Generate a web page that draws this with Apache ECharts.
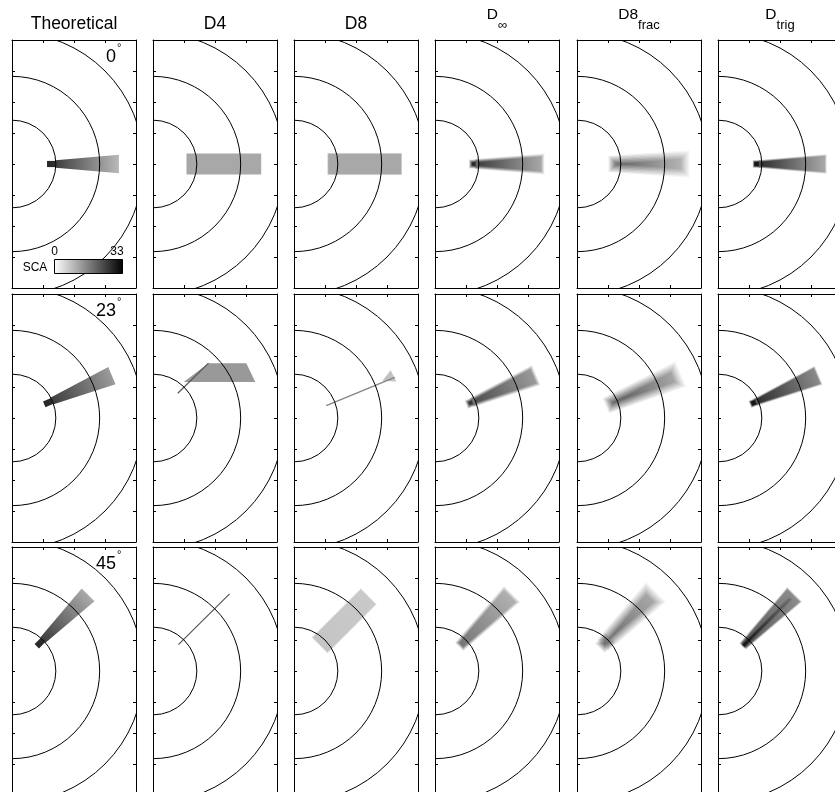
<!DOCTYPE html>
<html>
<head>
<meta charset="utf-8">
<script src="https://cdn.jsdelivr.net/npm/echarts@6/dist/echarts.min.js"></script>
<style>
  html, body { margin: 0; padding: 0; background: #fff; }
  #chart { width: 835px; height: 792px; }
</style>
</head>
<body>
<div id="chart"></div>
<script>
// Specific catchment area (SCA) of a single source cell routed down a cone
// by several flow-routing methods, for three flow directions.

// Column headings: [main text, subscript]
const methodNames = [['Theoretical', ''], ['D4', ''], ['D8', ''], ['D', '∞'], ['D8', 'frac'], ['D', 'trig']];
// Flow direction of each row, degrees
const flowAngles = [0, 23, 45];
// Elevation contours of the cone (grid units)
const contourRadii = [1.414, 2.828, 4.243];
// SCA colour scale
const scaRange = [0, 33];
const scaTicks = ['0', '33'];

// Flow tubes, per row: [direction°, start, end, half-width at start, half-width at end, SCA at start, SCA at end]
const theoreticalTubes = [
  [[0, 1.13, 1.41, 0.10, 0.10, 28, 27], [0, 1.41, 3.45, 0.12, 0.30, 25, 9]],
  [[23, 1.13, 1.41, 0.10, 0.10, 28, 27], [23, 1.41, 3.50, 0.12, 0.30, 25, 13]],
  [[45, 1.13, 1.41, 0.10, 0.10, 28, 27], [45, 1.41, 3.47, 0.12, 0.29, 25, 11]]
];
const d4Tubes = [[[0, 1.08, 3.49, 0.34, 0.34, 11.3, 11.3]], [], []];
const d8Tubes = [[[0, 1.09, 3.47, 0.34, 0.34, 11.3, 11.3]], [], [[45, 1.18, 3.40, 0.35, 0.35, 7.5, 7]]];
const dinfTubes = [
  [[0, 1.15, 1.35, 0.09, 0.11, 29, 27], [0, 1.35, 3.48, 0.11, 0.29, 25, 11]],
  [[23, 1.15, 1.35, 0.09, 0.11, 27, 25], [23, 1.35, 3.50, 0.11, 0.30, 23, 13]],
  [[45, 1.15, 3.47, 0.14, 0.32, 18, 10]]
];
const d8fracTubes = [
  [[0, 1.15, 3.50, 0.13, 0.31, 21, 9]],
  [[23, 1.15, 3.50, 0.13, 0.31, 22, 11]],
  [[45, 1.18, 1.40, 0.08, 0.09, 25, 24], [45, 1.30, 3.47, 0.12, 0.32, 19, 11]]
];
const dtrigTubes = [
  [[0, 1.15, 1.35, 0.09, 0.10, 31, 29], [0, 1.35, 3.48, 0.10, 0.29, 27, 11]],
  [[23, 1.15, 1.35, 0.09, 0.10, 31, 29], [23, 1.35, 3.50, 0.10, 0.30, 27, 15]],
  [[45, 1.15, 3.47, 0.12, 0.31, 22, 15], [45, 1.15, 3.30, 0.05, 0.05, 31, 19]]
];

// Single-cell flow paths, per row: [SCA, x0, y0, x1, y1]
const d4Paths = [[], [[22, 0.80, 0.80, 1.79, 1.77]], [[22, 0.82, 0.85, 2.47, 2.49]]];
const d8Paths = [[], [[16, 1.04, 0.40, 3.25, 1.31]], []];
// Filled cell patches, per row: [SCA, x0, y0, x1, y1, ...]
const d4Patches = [[], [[13.2, 0.99, 1.16, 1.79, 1.77, 3.01, 1.77, 3.30, 1.16]], []];
const d8Patches = [[], [[8, 2.85, 1.20, 3.12, 1.54, 3.30, 1.18]], []];

// ---------------------------------------------------------------------------
const FONT = '"Liberation Sans", Arial, Helvetica, sans-serif';
const PANEL_W = 124, PANEL_H = 248;
const panelLeft = i => Math.round(11.5 + 141.3 * i);
const panelTop = j => Math.round(40 + 253.5 * j);

const methodTubes = [theoreticalTubes, d4Tubes, d8Tubes, dinfTubes, d8fracTubes, dtrigTubes];
const methodPaths = [null, d4Paths, d8Paths, null, null, null];
const methodPatches = [null, d4Patches, d8Patches, null, null, null];
const edgeSoftness = [0, 0, 0.02, 0.05, 0.13, 0.03];

const measureCtx = document.createElement('canvas').getContext('2d');
function textWidth(str, size) {
  measureCtx.font = size + 'px ' + FONT;
  return measureCtx.measureText(str).width;
}

function gray(v) {
  const t = Math.min(1, Math.max(0, (v - scaRange[0]) / (scaRange[1] - scaRange[0])));
  const g = Math.round(255 * (1 - t));
  return 'rgb(' + g + ',' + g + ',' + g + ')';
}

function renderMark(m, api, soft) {
  if (m.kind === 'tube') {
    const [a, s0, s1, w0, w1, v0, v1] = m.v;
    const rad = a * Math.PI / 180, ca = Math.cos(rad), sa = Math.sin(rad);
    const P = (t, w) => api.coord([t * ca - w * sa, t * sa + w * ca]);
    const p0 = P(s0, 0), p1 = P(s1, 0);
    const fill = new echarts.graphic.LinearGradient(p0[0], p0[1], p1[0], p1[1],
      [{ offset: 0, color: gray(v0) }, { offset: 1, color: gray(v1) }], true);
    const layers = soft > 0 ? 7 : 1;
    const children = [];
    for (let k = 0; k < layers; k++) {
      const d = layers === 1 ? 0 : soft * (1 - 2 * k / (layers - 1));
      const ws = Math.max(0.004, w0 + d), we = Math.max(0.004, w1 + d);
      children.push({
        type: 'polygon',
        shape: { points: [P(s0 - d, -ws), P(s1 + d, -we), P(s1 + d, we), P(s0 - d, ws)] },
        style: { fill: fill, opacity: 1 / (layers - k) }
      });
    }
    return { type: 'group', children: children };
  }
  const pts = [];
  for (let k = 1; k < m.v.length; k += 2) pts.push(api.coord([m.v[k], m.v[k + 1]]));
  if (m.kind === 'path') {
    return { type: 'polyline', shape: { points: pts }, style: { stroke: gray(m.v[0]), lineWidth: 1.2, fill: 'none' } };
  }
  return { type: 'polygon', shape: { points: pts }, style: { fill: gray(m.v[0]) } };
}

const grids = [], xAxes = [], yAxes = [], series = [], graphics = [];

function axisCommon(extra) {
  return Object.assign({
    type: 'value',
    axisLine: { show: true, onZero: false, lineStyle: { color: '#000', width: 1 } },
    axisTick: { show: true, inside: true, length: 3, lineStyle: { color: '#000', width: 1 } },
    axisLabel: { show: false },
    splitLine: { show: false },
    silent: true
  }, extra);
}

for (let j = 0; j < flowAngles.length; j++) {
  for (let i = 0; i < methodNames.length; i++) {
    const g = grids.length;
    grids.push({ left: panelLeft(i), top: panelTop(j), width: PANEL_W, height: PANEL_H,
      containLabel: false, outerBoundsMode: 'none' });
    xAxes.push(axisCommon({ gridIndex: g, min: 0, max: 4, interval: 1, position: 'bottom' }));
    xAxes.push(axisCommon({ gridIndex: g, min: 0, max: 4, interval: 1, position: 'top' }));
    yAxes.push(axisCommon({ gridIndex: g, min: -4, max: 4, interval: 1, position: 'left' }));
    yAxes.push(axisCommon({ gridIndex: g, min: -4, max: 4, interval: 1, position: 'right' }));

    const marks = [];
    (methodTubes[i][j] || []).forEach(v => marks.push({ kind: 'tube', v: v }));
    if (methodPatches[i]) methodPatches[i][j].forEach(v => marks.push({ kind: 'patch', v: v }));
    if (methodPaths[i]) methodPaths[i][j].forEach(v => marks.push({ kind: 'path', v: v }));
    const soft = edgeSoftness[i];

    series.push({
      type: 'custom', xAxisIndex: 2 * g, yAxisIndex: 2 * g, clip: true, silent: true, z: 2,
      data: marks.map(m => m.v),
      renderItem: (params, api) => renderMark(marks[params.dataIndex], api, soft)
    });
    series.push({
      type: 'custom', xAxisIndex: 2 * g, yAxisIndex: 2 * g, clip: true, silent: true, z: 3,
      data: contourRadii.map(r => [r]),
      renderItem: (params, api) => {
        const c = api.coord([0, 0]);
        const r = api.size([contourRadii[params.dataIndex], 0])[0];
        return { type: 'circle', shape: { cx: c[0], cy: c[1], r: r },
          style: { fill: 'none', stroke: '#000', lineWidth: 1 } };
      }
    });
  }
}

// Column headings (main text with optional subscript)
const TITLE_SIZE = 17.5, MAIN_SIZE = 15.5, SUB_SIZE = 13;
methodNames.forEach(([main, sub], i) => {
  const cx = panelLeft(i) + PANEL_W / 2;
  if (!sub) {
    graphics.push({ type: 'text', z: 100, x: cx, y: 24,
      style: { text: main, fontSize: TITLE_SIZE, fontFamily: FONT, fill: '#000', align: 'center', verticalAlign: 'middle' } });
    return;
  }
  const wm = textWidth(main, MAIN_SIZE), ws = textWidth(sub, SUB_SIZE);
  const x0 = cx - (wm + ws) / 2;
  graphics.push({ type: 'text', z: 100, x: x0, y: 14.8,
    style: { text: main, fontSize: MAIN_SIZE, fontFamily: FONT, fill: '#000', align: 'left', verticalAlign: 'middle' } });
  graphics.push({ type: 'text', z: 100, x: x0 + wm, y: 25,
    style: { text: sub, fontSize: SUB_SIZE, fontFamily: FONT, fill: '#000', align: 'left', verticalAlign: 'middle' } });
});

// Flow-direction labels
flowAngles.forEach((a, j) => {
  graphics.push({ type: 'text', z: 100, x: panelLeft(0) + 104, y: panelTop(j) + 17,
    style: { text: String(a), fontSize: 18, fontFamily: FONT, fill: '#000', align: 'right', verticalAlign: 'middle' } });
  graphics.push({ type: 'text', z: 100, x: panelLeft(0) + 105, y: panelTop(j) + 8,
    style: { text: '°', fontSize: 11, fontFamily: FONT, fill: '#000', align: 'left', verticalAlign: 'middle' } });
});

// SCA colour bar
graphics.push({
  type: 'rect', z: 100, shape: { x: 54.5, y: 259.5, width: 68, height: 14 },
  style: {
    fill: new echarts.graphic.LinearGradient(0, 0, 1, 0,
      [{ offset: 0, color: gray(scaRange[0]) }, { offset: 1, color: gray(scaRange[1]) }]),
    stroke: '#000', lineWidth: 1
  }
});
graphics.push({ type: 'text', z: 100, x: 54.5, y: 251.5,
  style: { text: scaTicks[0], fontSize: 12, fontFamily: FONT, fill: '#000', align: 'center', verticalAlign: 'middle' } });
graphics.push({ type: 'text', z: 100, x: 117, y: 251.5,
  style: { text: scaTicks[1], fontSize: 12, fontFamily: FONT, fill: '#000', align: 'center', verticalAlign: 'middle' } });
graphics.push({ type: 'text', z: 100, x: 35, y: 267.5,
  style: { text: 'SCA', fontSize: 12, fontFamily: FONT, fill: '#000', align: 'center', verticalAlign: 'middle' } });

const chart = echarts.init(document.getElementById('chart'), null, { renderer: 'canvas' });
chart.setOption({
  animation: false,
  backgroundColor: '#fff',
  grid: grids,
  xAxis: xAxes,
  yAxis: yAxes,
  series: series,
  graphic: graphics
});
</script>
</body>
</html>
